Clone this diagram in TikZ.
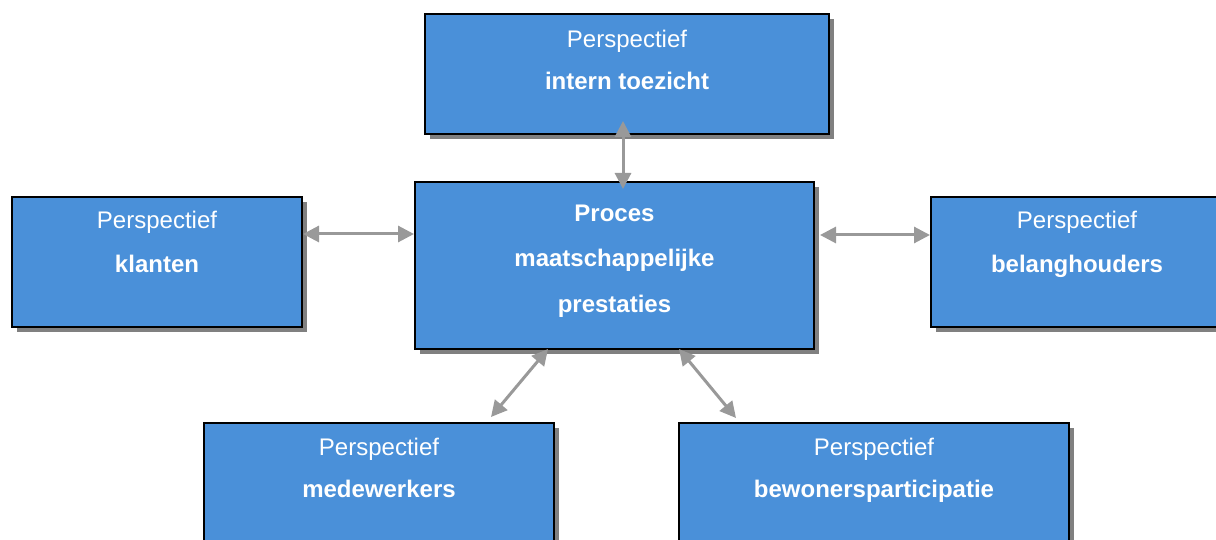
\documentclass[tikz,border=0pt]{standalone}
\usepackage{fontspec}
\setmainfont{Liberation Sans}
\usepackage{tikz}
\usetikzlibrary{arrows.meta, shadows}
\definecolor{boxBlue}{HTML}{4A90D9}
\definecolor{linkGray}{HTML}{999999}
\definecolor{shadowGray}{HTML}{808080}

\begin{document}
\begin{tikzpicture}[
  x=1pt, y=-1pt,
  every node/.style={text=white},
  pbox/.style={
    rectangle, draw=black, line width=2pt, fill=boxBlue, inner sep=0pt,
    drop shadow={shadow xshift=5pt, shadow yshift=-5pt, opacity=1, fill=shadowGray}
  },
  pcap/.style={align=center, anchor=north, inner sep=0pt, font=\fontsize{24}{42}\selectfont},
  link/.style={line width=3pt, color=linkGray,
    {Triangle[length=16pt,width=16pt]}-{Triangle[length=16pt,width=16pt]}}
]
\useasboundingbox (0,0) rectangle (1216,540);
\clip (0,0) rectangle (1216,540);

% boxes
\node[pbox, minimum width=404pt, minimum height=120pt] (ptop)    at (627,74)    {};
\node[pbox, minimum width=290pt, minimum height=130pt] (pklant)  at (157,262)   {};
\node[pbox, minimum width=399pt, minimum height=167pt] (proces)  at (614.5,265.5) {};
\node[pbox, minimum width=292pt, minimum height=130pt] (pbelang) at (1077,262)  {};
\node[pbox, minimum width=350pt, minimum height=130pt] (pmede)   at (379,488)   {};
\node[pbox, minimum width=390pt, minimum height=130pt] (pbewon)  at (874,488)   {};

% captions
\node[pcap, yshift=-16.5pt] (ctop) at (ptop.north) {Perspectief\\\textbf{intern toezicht}};
\node[pcap, yshift=-14.5pt, font=\fontsize{24}{44}\selectfont] (cklant) at (pklant.north) {Perspectief\\\textbf{klanten}};
\node[pcap, yshift=-23.5pt, font=\fontsize{24}{45.5}\selectfont] (cproces) at (proces.north)
  {\textbf{Proces}\\\textbf{maatschappelijke}\\\textbf{prestaties}};
\node[pcap, yshift=-14.5pt, font=\fontsize{24}{44}\selectfont] (cbelang) at (pbelang.north) {Perspectief\\\textbf{belanghouders}};
\node[pcap, yshift=-15.5pt] (cmede) at (pmede.north) {Perspectief\\\textbf{medewerkers}};
\node[pcap, yshift=-15.5pt] (cbewon) at (pbewon.north) {Perspectief\\\textbf{bewonersparticipatie}};

% links
\draw[link] ([xshift=-4pt, yshift=14pt]ptop.south) -- ([xshift=8.5pt, yshift=-8pt]proces.north);
\draw[link] ([yshift=28pt]pklant.east) -- ([yshift=31.5pt]proces.west);
\draw[link] ([xshift=5pt, yshift=30.5pt]proces.east) -- ([yshift=27pt]pbelang.west);
\draw[link] ([xshift=-66.5pt, yshift=1pt]proces.south) -- ([xshift=112pt, yshift=5pt]pmede.north);
\draw[link] ([xshift=64.5pt, yshift=1pt]proces.south) -- ([xshift=-138pt, yshift=4pt]pbewon.north);
\end{tikzpicture}
\end{document}
